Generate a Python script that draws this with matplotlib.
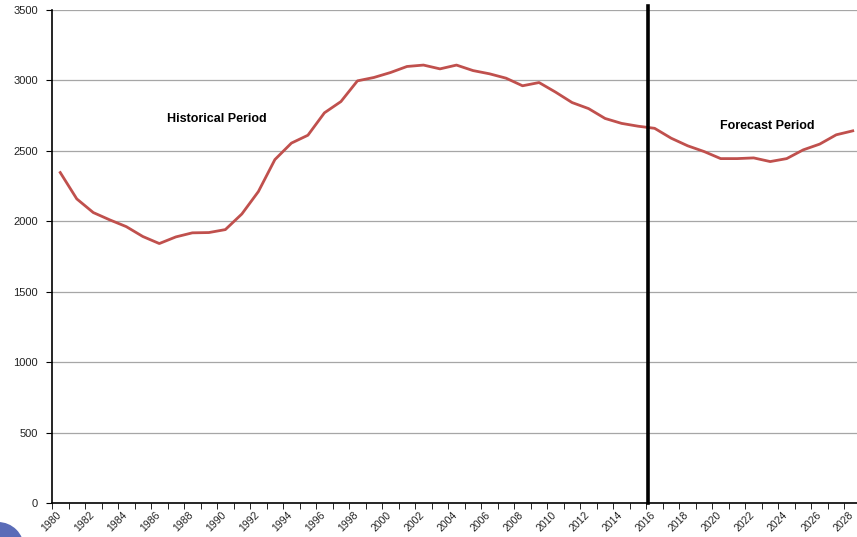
import numpy as np
import matplotlib
matplotlib.use("Agg")
import matplotlib.pyplot as plt
import matplotlib.transforms as mtrans
from matplotlib.patches import Circle

plt.rcParams['font.family'] = ['Liberation Sans', 'DejaVu Sans']

# data
years = list(range(1980, 2029))
values = [2346, 2159, 2062, 2010, 1962, 1892, 1842, 1889, 1918, 1920,
          1941, 2052, 2211, 2438, 2555, 2611, 2770, 2850, 2997, 3021,
          3056, 3099, 3109, 3082, 3109, 3070, 3047, 3016, 2962, 2985,
          2917, 2843, 2800, 2730, 2695, 2675, 2660, 2590, 2536, 2495,
          2445, 2445, 2450, 2424, 2445, 2507, 2548, 2614, 2642]
split_year = 2015.6
label_years = list(range(1980, 2029, 2))
y_ticks = list(range(0, 3501, 500))

W, H = 857, 537
fig = plt.figure(figsize=(W / 100, H / 100), dpi=100)
ax = fig.add_axes([52 / W, 34 / H, (861 - 52) / W, 493 / H])

for yt in y_ticks[1:]:
    ax.axhline(yt, color='#a6a6a6', lw=0.9, zorder=1)

ax.plot(years, values, color='#c0504d', lw=2.0, zorder=3)
ax.axvline(split_year, ymin=0, ymax=1.008, color='black', lw=2.6,
           zorder=4, clip_on=False)

ax.text(1989.5, 2727, 'Historical Period', fontsize=9, fontweight='bold',
        ha='center', va='center')
ax.text(2022.8, 2677, 'Forecast Period', fontsize=9, fontweight='bold',
        ha='center', va='center')

ax.set_xlim(1979.5, 2028.5)
ax.set_ylim(0, 3500)
ax.set_yticks(y_ticks)
ax.set_xticks(label_years)
ax.set_xticklabels([str(y) for y in label_years], rotation=45,
                   ha='right', va='top', rotation_mode='anchor')
ax.set_xticks(np.arange(1979.5, 2029, 1), minor=True)
ax.tick_params(axis='x', which='major', length=0, labelsize=7.5,
               colors='#222222', pad=5)
ax.tick_params(axis='x', which='minor', length=4, color='black')
ax.tick_params(axis='y', length=4, labelsize=8, colors='#222222', pad=6)
ax.tick_params(axis='y', color='black')

# nudge rotated year labels left so the top-right corner sits under the point
shift = mtrans.ScaledTranslation(-4 / 100, 0, fig.dpi_scale_trans)
for lbl in ax.get_xticklabels():
    lbl.set_transform(lbl.get_transform() + shift)

for s in ['top', 'right']:
    ax.spines[s].set_visible(False)
for s in ['left', 'bottom']:
    ax.spines[s].set_color('black')
    ax.spines[s].set_linewidth(1.2)

# blue badge in bottom-left corner
badge = Circle((-2 / 100, (H - 548) / 100), 26 / 100,
               transform=fig.dpi_scale_trans,
               facecolor='#5a6cb8', edgecolor='none')
fig.patches.append(badge)

fig.savefig('out.png', dpi=100)
